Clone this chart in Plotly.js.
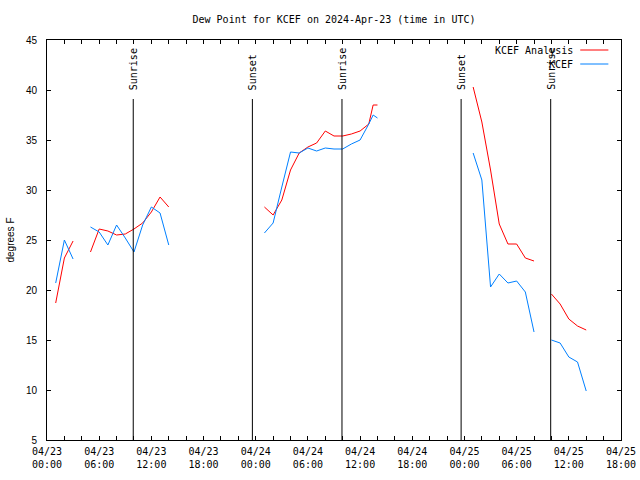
<!DOCTYPE html>
<html>
<head>
<meta charset="utf-8">
<script src="https://cdn.plot.ly/plotly-3.0.1.min.js"></script>
<style>html,body{margin:0;padding:0;background:#fff;}#chart{width:640px;height:480px;}</style>
</head>
<body>
<div id="chart"></div>
<script>
// Hours after 2024-04-23 00:00 UTC
const hours = [1,2,3,4,5,6,7,8,9,10,11,12,13,14,15,
  25,26,27,28,29,30,31,32,33,34,35,36,37,37.5,38,39,
  49,50,51,52,53,54,55,56,57,58,59,60,61,62];
const analysisDew = [18.7,23.2,24.9,null,23.8,26.1,25.9,25.5,25.6,26.1,26.7,27.8,29.3,28.3,null,
  28.3,27.5,29.0,32.0,33.7,34.3,34.7,35.9,35.4,35.4,35.6,35.9,36.6,38.5,38.5,null,
  40.3,36.8,32.0,26.6,24.6,24.6,23.2,22.9,null,19.6,18.6,17.1,16.4,16.0];
const obsDew = [20.7,25.0,23.1,null,26.3,25.8,24.5,26.5,25.2,23.8,26.5,28.3,27.7,24.5,null,
  25.7,26.7,30.3,33.8,33.7,34.2,33.9,34.2,34.1,34.1,34.6,35.0,36.6,37.5,37.2,null,
  33.7,31.0,20.3,21.6,20.7,20.9,19.8,15.8,null,15.0,14.7,13.3,12.8,9.9];
const seriesNames = ['KCEF Analysis','KCEF'];
const eventTimes = ['2024-04-23 09:55','2024-04-23 23:37','2024-04-24 09:55','2024-04-24 23:37','2024-04-25 09:55'];
const eventLabels = ['Sunrise','Sunset','Sunrise','Sunset','Sunrise'];
const tickTimes = ['2024-04-23 00:00','2024-04-23 06:00','2024-04-23 12:00','2024-04-23 18:00',
  '2024-04-24 00:00','2024-04-24 06:00','2024-04-24 12:00','2024-04-24 18:00',
  '2024-04-25 00:00','2024-04-25 06:00','2024-04-25 12:00','2024-04-25 18:00'];
const tickLabels = ['04/23<br>00:00','04/23<br>06:00','04/23<br>12:00','04/23<br>18:00',
  '04/24<br>00:00','04/24<br>06:00','04/24<br>12:00','04/24<br>18:00',
  '04/25<br>00:00','04/25<br>06:00','04/25<br>12:00','04/25<br>18:00'];

const base = Date.UTC(2024,3,23,0,0);
function toTime(h){
  const d = new Date(base + h*3600000);
  const p = n => String(n).padStart(2,'0');
  return d.getUTCFullYear()+'-'+p(d.getUTCMonth()+1)+'-'+p(d.getUTCDate())+' '+p(d.getUTCHours())+':'+p(d.getUTCMinutes());
}
const times = hours.map(toTime);
const colors = ['#ff0000','#0080ff'];
const mono = 'DejaVu Sans Mono, monospace';
const sans = 'Liberation Sans, Arial, sans-serif';

const traces = [
  {x: times, y: analysisDew, name: seriesNames[0], type:'scatter', mode:'lines', connectgaps:false,
   line:{color:colors[0], width:1}},
  {x: times, y: obsDew, name: seriesNames[1], type:'scatter', mode:'lines', connectgaps:false,
   line:{color:colors[1], width:1}}
];

const shapes = [];
const annotations = [];
eventTimes.forEach((t,i)=>{
  shapes.push({type:'line', xref:'x', yref:'paper', x0:t, x1:t, y0:0, y1:0.8525,
    line:{color:'#000', width:1}});
  annotations.push({x:t, xref:'x', y:0.87, yref:'paper', text:eventLabels[i], textangle:-90,
    showarrow:false, xanchor:'center', yanchor:'bottom', font:{family:mono, size:10, color:'#000'}});
});
// legend (text then sample, right-aligned)
const legY = [0.975, 0.94];
seriesNames.forEach((n,i)=>{
  annotations.push({x:0.919, xref:'paper', y:legY[i], yref:'paper', text:n, showarrow:false,
    xanchor:'right', yanchor:'middle', font:{family:mono, size:10, color:'#000'}});
  shapes.push({type:'line', xref:'paper', yref:'paper', x0:0.929, x1:0.978, y0:legY[i], y1:legY[i],
    line:{color:colors[i], width:1}});
});

const layout = {
  width:640, height:480,
  margin:{l:47, r:19, t:40, b:40},
  paper_bgcolor:'#fff', plot_bgcolor:'#fff',
  showlegend:false,
  title:{text:'Dew Point for KCEF on 2024-Apr-23 (time in UTC)', x:0.5, xref:'paper',
    y:0.96, yref:'container', yanchor:'middle', font:{family:mono, size:10, color:'#000'}},
  xaxis:{type:'date', range:['2024-04-23 00:00','2024-04-25 18:00'],
    tickvals:tickTimes, ticktext:tickLabels, ticks:'inside', ticklen:4, tickcolor:'#000',
    ticklabelstandoff:2,
    minor:{dtick:7200000, ticks:'inside', ticklen:4, tickcolor:'#000', showgrid:false},
    showline:true, linecolor:'#000', linewidth:1, mirror:'allticks', showgrid:false, zeroline:false,
    tickfont:{family:mono, size:10, color:'#000'}},
  yaxis:{range:[5,45], tick0:5, dtick:5, ticks:'inside', ticklen:4, tickcolor:'#000',
    ticklabelstandoff:7,
    showline:true, linecolor:'#000', linewidth:1, mirror:'allticks', showgrid:false, zeroline:false,
    tickfont:{family:sans, size:10, color:'#000'},
    title:{text:'degrees F', standoff:9, font:{family:sans, size:10, color:'#000'}}},
  shapes:shapes,
  annotations:annotations
};
Plotly.newPlot('chart', traces, layout, {displayModeBar:false, staticPlot:true});
</script>
</body>
</html>
